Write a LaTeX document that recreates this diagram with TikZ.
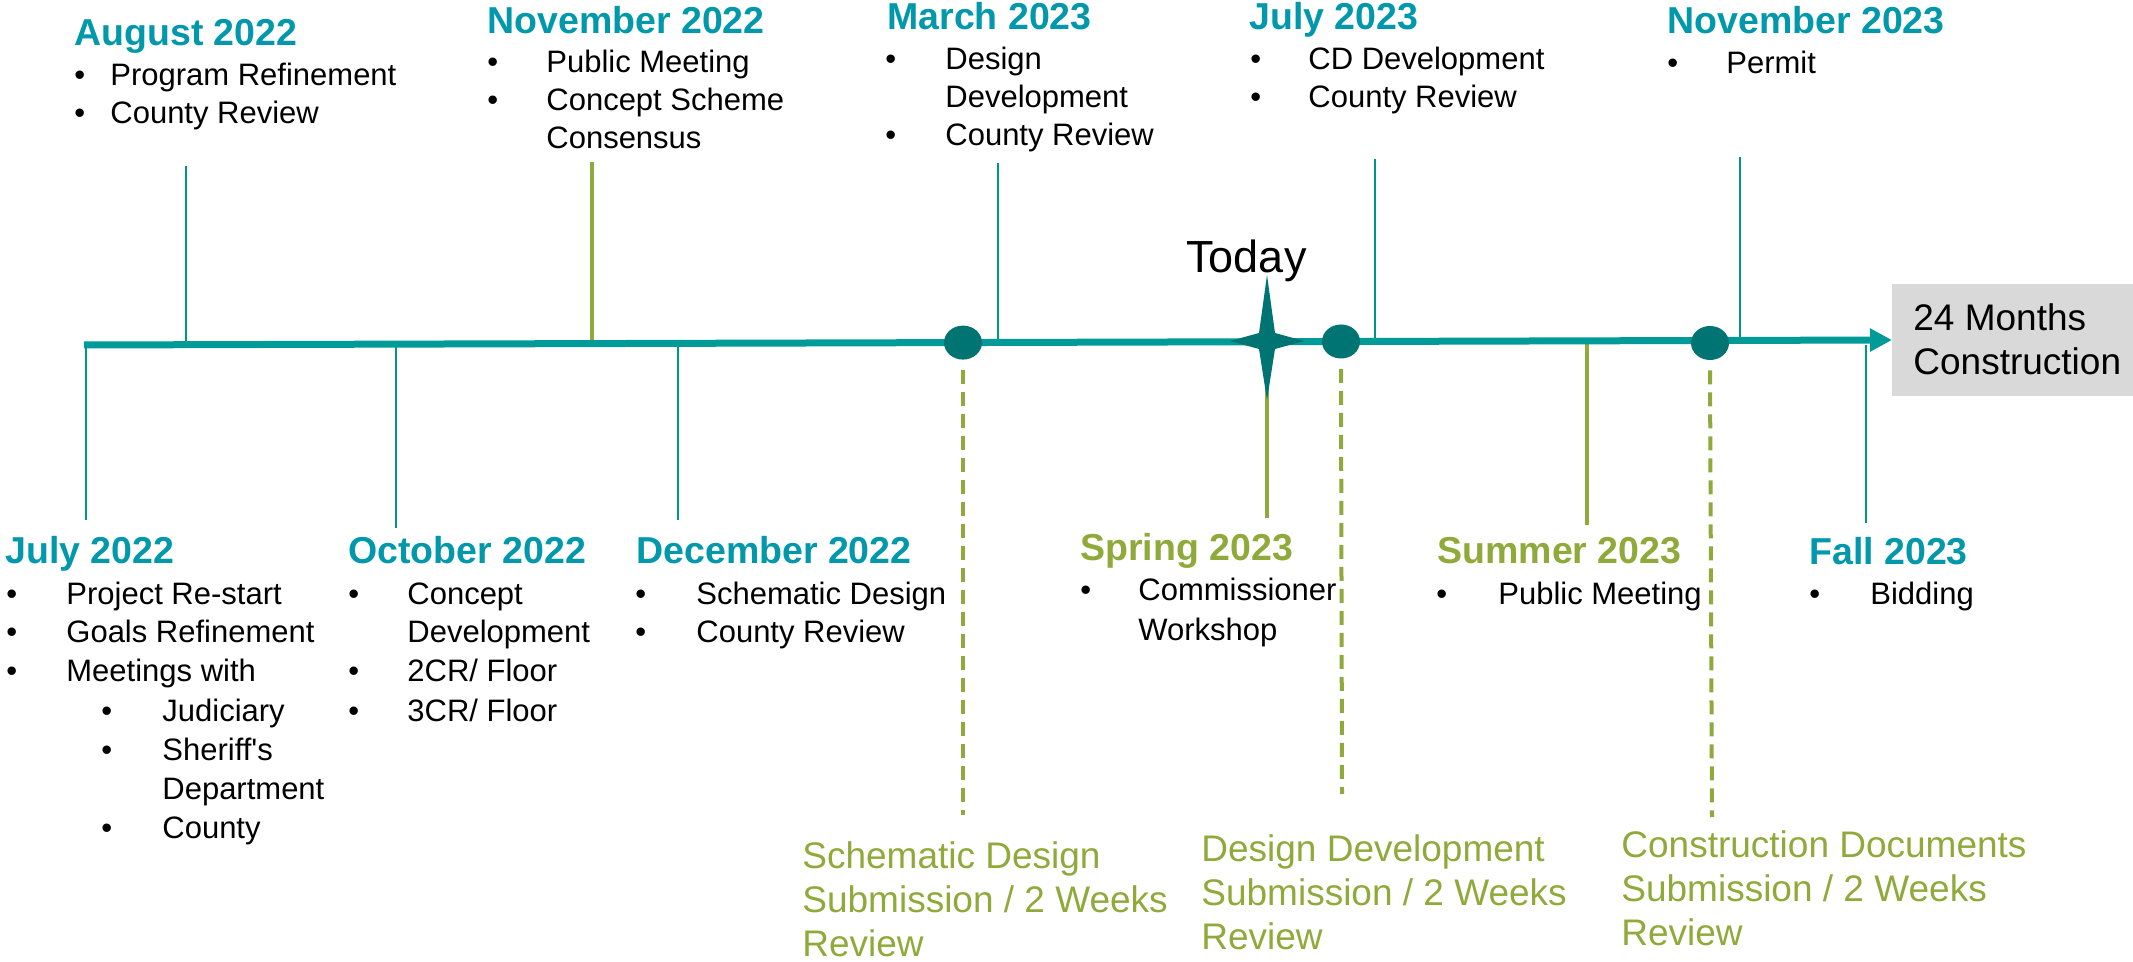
\documentclass[tikz,border=0pt]{standalone}
\usepackage{fontspec}
\setmainfont{Liberation Sans}[Ligatures=TeXOff]
\usetikzlibrary{arrows.meta,shapes.geometric}
\definecolor{tealline}{RGB}{0,155,152}
\definecolor{tealhead}{RGB}{0,152,170}
\definecolor{tealtick}{RGB}{0,150,130}
\definecolor{darkteal}{RGB}{0,115,115}
\definecolor{olive}{RGB}{143,170,58}
\definecolor{boxgray}{RGB}{217,217,217}
\begin{document}
\begin{tikzpicture}[x=0.5pt,y=-0.5pt,
  body/.style={anchor=base west, inner sep=0, font=\fontsize{15.5}{18}\selectfont, text=black},
  head/.style={anchor=base west, inner sep=0, font=\bfseries\fontsize{18.75}{22}\selectfont, text=tealhead},
  ghead/.style={head, text=olive},
  gtext/.style={anchor=base west, inner sep=0, font=\fontsize{18.5}{22}\selectfont, text=olive},
  bigtext/.style={anchor=base west, inner sep=0, font=\fontsize{18.5}{22}\selectfont, text=black},
  thintick/.style={draw=tealtick, line width=0.75pt},
  thicktick/.style={draw=olive, line width=2.25pt},
  dashg/.style={draw=olive, line width=2pt, dash pattern=on 7pt off 4pt},
  milestone/.style={ellipse, fill=darkteal, minimum width=19pt, minimum height=17pt, inner sep=0, draw=none},
]
\useasboundingbox (0,0) rectangle (2133,962);

% ---------- tick end points ----------
\coordinate (augT) at (186,166);   \coordinate (augB) at (186,344.7);
\coordinate (nov22T) at (592,162); \coordinate (nov22B) at (592,343.6);
\coordinate (mar23T) at (998,163); \coordinate (mar23B) at (998,342.5);
\coordinate (jul23T) at (1375,159);\coordinate (jul23B) at (1375,341.4);
\coordinate (nov23T) at (1740,157);\coordinate (nov23B) at (1740,340.4);
\coordinate (jul22T) at (86,345);  \coordinate (jul22B) at (86,520);
\coordinate (oct22T) at (396,344); \coordinate (oct22B) at (396,528);
\coordinate (dec22T) at (678,343.5);\coordinate (dec22B) at (678,520);
\coordinate (sprT) at (1267,385);  \coordinate (sprB) at (1267,518);
\coordinate (sumT) at (1587,340.5);\coordinate (sumB) at (1587,525);
\coordinate (fallT) at (1866,345); \coordinate (fallB) at (1866,523);

\draw[thintick] (augT) -- (augB);
\draw[thicktick] (nov22T) -- (nov22B);
\draw[thintick] (mar23T) -- (mar23B);
\draw[thintick] (jul23T) -- (jul23B);
\draw[thintick] (nov23T) -- (nov23B);
\draw[thintick] (jul22T) -- (jul22B);
\draw[thintick] (oct22T) -- (oct22B);
\draw[thintick] (dec22T) -- (dec22B);
\draw[thicktick] (sprT) -- (sprB);
\draw[thicktick] (sumT) -- (sumB);
\draw[thintick] (fallT) -- (fallB);

% ---------- main time line ----------
\coordinate (start) at (84,345);
\coordinate (tip) at (1892,340);
\draw[draw=tealline, line width=3.5pt, -{Triangle[length=11pt,width=11pt]}] (start) -- (tip);

% ---------- construction box ----------
\node[fill=boxgray, draw=none, inner sep=0, minimum width=120.5pt, minimum height=56pt, anchor=north west] (constrbox) at (1892,284) {};
\node[bigtext] (c1) at (1913,331) {24 Months};
\node[bigtext] (c2) at (1913,375) {Construction};

% ---------- milestones ----------
\node[milestone] (m1) at (963,342.6) {};
\node[milestone] (m2) at (1341,341.5) {};
\node[milestone] (m3) at (1710,343) {};
\coordinate (d1) at (963,815);
\coordinate (d2) at (1342,794);
\coordinate (d3) at (1712,817);
\draw[dashg] ([yshift=-5pt]m1.south) -- (d1);
\draw[dashg] ([yshift=-5pt]m2.south) -- (d2);
\draw[dashg] ([yshift=-5pt]m3.south) -- (d3);

% ---------- today star ----------
\coordinate (star) at (1267,341);
\fill[darkteal] (star) ++(0,-66) -- ++(8,58) -- ++(29,8) -- ++(-29,8) -- ++(-8,51)
  -- ++(-8,-51) -- ++(-29,-8) -- ++(29,-8) -- cycle;
\node[anchor=base west, inner sep=0, font=\fontsize{22.5}{27}\selectfont] (today) at (1186,273) {Today};

% ---------- top groups ----------
\node[head] (h-aug22) at (74,46) {August 2022};
\node[body] (b-aug22-1) at (74,86) {•};
\node[body] (t-aug22-1) at (110,86) {Program Refinement};
\node[body] (b-aug22-2) at (74,124) {•};
\node[body] (t-aug22-2) at (110,124) {County Review};

\node[head] (h-nov22) at (487,34) {November 2022};
\node[body] (b-nov22-1) at (487,73) {•};
\node[body] (t-nov22-1) at (546,73) {Public Meeting};
\node[body] (b-nov22-2) at (487,111) {•};
\node[body] (t-nov22-2) at (546,111) {Concept Scheme};
\node[body] (t-nov22-3) at (546,149) {Consensus};

\node[head] (h-mar23) at (887,30) {March 2023};
\node[body] (b-mar23-1) at (885,70) {•};
\node[body] (t-mar23-1) at (945,70) {Design};
\node[body] (t-mar23-2) at (945,108) {Development};
\node[body] (b-mar23-3) at (885,146) {•};
\node[body] (t-mar23-3) at (945,146) {County Review};

\node[head] (h-jul23) at (1249,30) {July 2023};
\node[body] (b-jul23-1) at (1250,70) {•};
\node[body] (t-jul23-1) at (1308,70) {CD Development};
\node[body] (b-jul23-2) at (1250,108) {•};
\node[body] (t-jul23-2) at (1308,108) {County Review};

\node[head] (h-nov23) at (1667,34) {November 2023};
\node[body] (b-nov23-1) at (1667,74) {•};
\node[body] (t-nov23-1) at (1726,74) {Permit};

% ---------- bottom groups ----------
\node[head] (h-jul22) at (5,564) {July 2022};
\node[body] (b-jul22-1) at (6,604) {•};
\node[body] (t-jul22-1) at (66,604) {Project Re-start};
\node[body] (b-jul22-2) at (6,643) {•};
\node[body] (t-jul22-2) at (66,643) {Goals Refinement};
\node[body] (b-jul22-3) at (6,682) {•};
\node[body] (t-jul22-3) at (66,682) {Meetings with};
\node[body] (b-jul22-4) at (101,721) {•};
\node[body] (t-jul22-4) at (162,721) {Judiciary};
\node[body] (b-jul22-5) at (101,760) {•};
\node[body] (t-jul22-5) at (162,760) {Sheriff's};
\node[body] (t-jul22-6) at (162,799) {Department};
\node[body] (b-jul22-7) at (101,838) {•};
\node[body] (t-jul22-7) at (162,838) {County};

\node[head] (h-oct22) at (348,564) {October 2022};
\node[body] (b-oct22-1) at (348,604) {•};
\node[body] (t-oct22-1) at (407,604) {Concept};
\node[body] (t-oct22-2) at (407,643) {Development};
\node[body] (b-oct22-3) at (348,682) {•};
\node[body] (t-oct22-3) at (407,682) {2CR/ Floor};
\node[body] (b-oct22-4) at (348,721) {•};
\node[body] (t-oct22-4) at (407,721) {3CR/ Floor};

\node[head] (h-dec22) at (636,564) {December 2022};
\node[body] (b-dec22-1) at (635,604) {•};
\node[body] (t-dec22-1) at (696,604) {Schematic Design};
\node[body] (b-dec22-2) at (635,643) {•};
\node[body] (t-dec22-2) at (696,643) {County Review};

\node[ghead] (h-spr23) at (1080,561) {Spring 2023};
\node[body] (b-spr23-1) at (1080,601) {•};
\node[body] (t-spr23-1) at (1138,601) {Commissioner};
\node[body] (t-spr23-2) at (1138,640) {Workshop};

\node[ghead] (h-sum23) at (1437,564) {Summer 2023};
\node[body] (b-sum23-1) at (1436,604) {•};
\node[body] (t-sum23-1) at (1498,604) {Public Meeting};

\node[head] (h-fall23) at (1809,565) {Fall 2023};
\node[body] (b-fall23-1) at (1809,605) {•};
\node[body] (t-fall23-1) at (1870,605) {Bidding};

% ---------- submission notes ----------
\node[gtext] (sd1) at (802,868) {Schematic Design};
\node[gtext] (sd2) at (802,912) {Submission / 2 Weeks};
\node[gtext] (sd3) at (802,956) {Review};
\node[gtext] (dd1) at (1201,861) {Design Development};
\node[gtext] (dd2) at (1201,905) {Submission / 2 Weeks};
\node[gtext] (dd3) at (1201,949) {Review};
\node[gtext] (cd1) at (1621,857) {Construction Documents};
\node[gtext] (cd2) at (1621,901) {Submission / 2 Weeks};
\node[gtext] (cd3) at (1621,945) {Review};
\end{tikzpicture}
\end{document}
